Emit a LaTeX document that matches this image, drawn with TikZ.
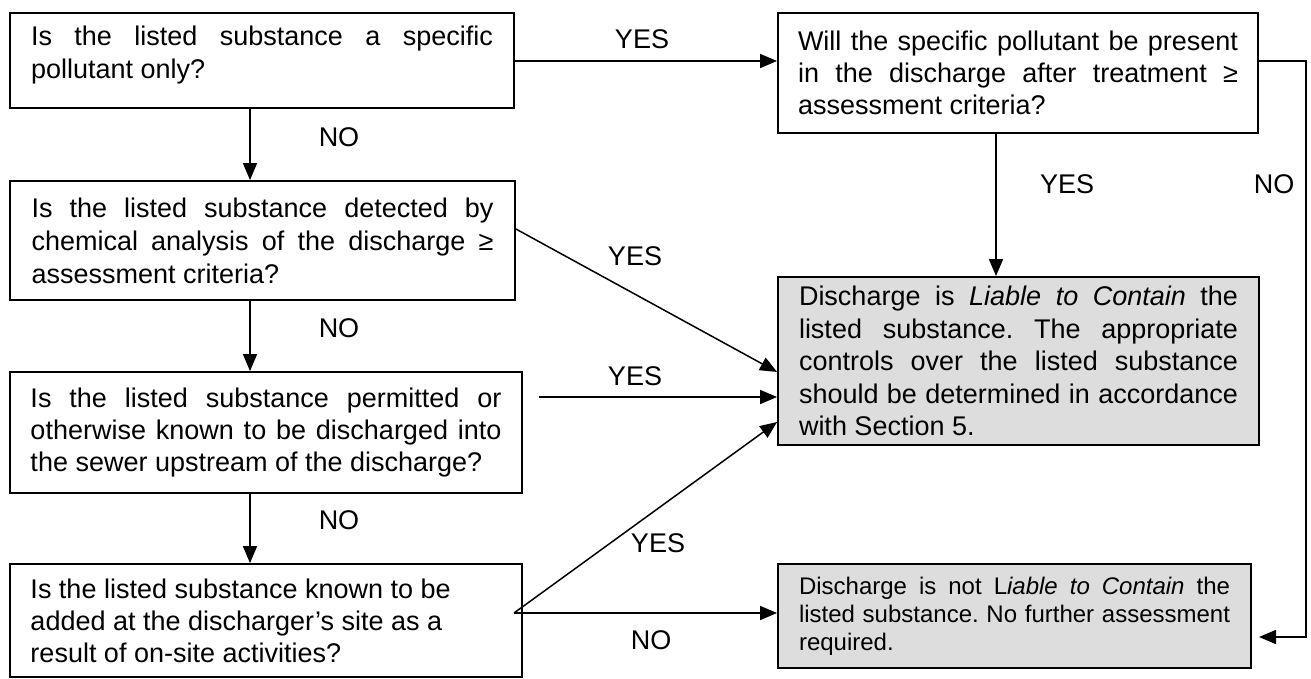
\documentclass[tikz,border=0pt]{standalone}
\usepackage{fontspec}
\setmainfont{Liberation Sans}
\usetikzlibrary{arrows.meta,calc}
\definecolor{boxgray}{RGB}{221,221,221}
\newcommand{\rs}{\frenchspacing\spaceskip=0pt\xspaceskip=0pt\relax}
\newcommand{\jl}[2]{{\rs\makebox[#1][s]{#2}}}
\begin{document}
\begin{tikzpicture}[x=1pt,y=-1pt,
  box/.style={draw, line width=1.8pt, inner sep=0pt, align=left, font=\fontsize{27}{32}\selectfont},
  endbox/.style={box, fill=boxgray},
  arr/.style={line width=1.5pt, -{Triangle[length=17pt,width=14pt]}},
  lbl/.style={font=\fontsize{27}{31}\selectfont, inner sep=0pt}]
\useasboundingbox (0,0) rectangle (1311,679);

% boxes
\node[box, minimum width=504pt, minimum height=95pt, text width=462pt, font=\fontsize{27}{33}\selectfont, text depth=50pt] (A) at (262,60.5)
  {\rs\jl{462pt}{Is the listed substance a specific}\\ pollutant only?};
\node[box, minimum width=480pt, minimum height=120pt, text width=440pt] (B) at (1018,73)
  {\rs\jl{440pt}{Will the specific pollutant be present}\\ \jl{440pt}{in the discharge after treatment ≥}\\ assessment criteria?};
\node[box, minimum width=505pt, minimum height=119pt, text width=462pt, font=\fontsize{27}{33}\selectfont] (C) at (262.5,240.5)
  {\rs\jl{462pt}{Is the listed substance detected by}\\ \jl{462pt}{chemical analysis of the discharge ≥}\\ assessment criteria?};
\node[box, minimum width=512pt, minimum height=121pt, text width=471pt] (D) at (266,432.5)
  {\rs\jl{471pt}{Is the listed substance permitted or}\\ \jl{471pt}{otherwise known to be discharged into}\\ the sewer upstream of the discharge?};
\node[box, minimum width=512pt, minimum height=113pt, text width=471pt] (E) at (266,620.5)
  {\rs Is the listed substance known to be\\ added at the discharger’s site as a\\ result of on-site activities?};
\node[endbox, minimum width=481pt, minimum height=168pt, text width=439pt, font=\fontsize{27}{32.5}\selectfont] (G) at (1018.5,361)
  {\rs\jl{439pt}{Discharge is \textit{Liable to Contain} the}\\ \jl{439pt}{listed substance. The appropriate}\\ \jl{439pt}{controls over the listed substance}\\ \jl{439pt}{should be determined in accordance}\\ with Section 5.};
\node[endbox, minimum width=473pt, minimum height=104pt, text width=431pt, font=\fontsize{24}{28}\selectfont] (F) at (1014.5,616)
  {\rs\jl{431pt}{Discharge is not L\textit{iable to Contain} the}\\ \jl{431pt}{listed substance. No further assessment}\\ required.};

% labels
\node[lbl] (yes1) at (642,39) {YES};
\node[lbl] (no1) at (339,137) {NO};
\node[lbl] (no2) at (339,328) {NO};
\node[lbl] (no3) at (339,520) {NO};
\node[lbl] (yes2) at (635,256) {YES};
\node[lbl] (yes3) at (635,376) {YES};
\node[lbl] (yes4) at (658,543) {YES};
\node[lbl] (no4) at (651,640) {NO};
\node[lbl] (yes5) at (1067,184) {YES};
\node[lbl] (no5) at (1274,184) {NO};

% connectors
\coordinate (ax) at (250,0);
\draw[arr] (A.south -| ax) -- (C.north -| ax);
\draw[arr] (C.south -| ax) -- (D.north -| ax);
\draw[arr] (D.south -| ax) -- (E.north -| ax);
\coordinate (r1) at (0,61);
\draw[arr] (A.east |- r1) -- (B.west |- r1);
\coordinate (bx) at (996,0);
\draw[arr] (B.south -| bx) -- (G.north -| bx);
\coordinate (nx) at (1306,61);
\coordinate (fend) at (1259,637);
\draw[arr] (B.east |- r1) -- (nx) |- (fend);
\coordinate (g1) at (0,372);
\coordinate (g2) at (0,397);
\coordinate (g3) at (0,422);
\draw[arr] ($(C.east)+(0,-11.5)$) -- (G.west |- g1);
\draw[arr, shorten <=16pt] (D.east |- g2) -- (G.west |- g2);
\coordinate (j) at (514,613);
\draw[arr] (j) -- (F.west |- j);
\draw[arr] (j) -- (G.west |- g3);
\end{tikzpicture}
\end{document}
